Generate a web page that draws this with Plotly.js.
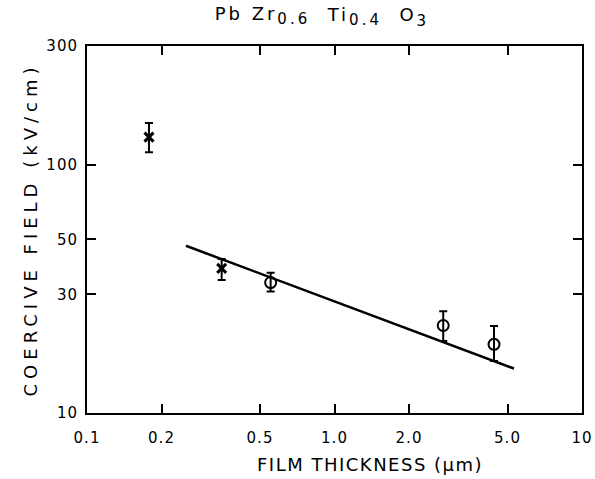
<!DOCTYPE html>
<html>
<head>
<meta charset="utf-8">
<script src="https://cdn.plot.ly/plotly-3.0.1.min.js"></script>
<style>
html,body{margin:0;padding:0;background:#fff;}
#chart{width:595px;height:479px;}
.ytitle{letter-spacing:5px;}
.annotation-text{letter-spacing:1.5px;}
text.gtitle, .gtitle tspan{letter-spacing:3px !important;}
.gtitle tspan[style*="70%"]{font-size:15px !important;}
.xtick text,.ytick text{letter-spacing:1px;}
</style>
</head>
<body>
<div id="chart"></div>
<script>
// Cross-marked points (thinner films)
var crossX = [0.178, 0.35];
var crossY = [129, 38.2];
var crossErrPlus = [18, 3.5];
var crossErrMinus = [17, 3.9];

// Circle-marked points
var circX = [0.552, 2.75, 4.41];
var circY = [33.5, 22.5, 18.9];
var circErrPlus = [3.2, 3.2, 3.5];
var circErrMinus = [2.7, 3.0, 2.7];

// Fitted line end points
var fitX = [0.251, 5.31];
var fitY = [47.1, 15.1];

var xTickVals = [0.1, 0.2, 0.5, 1.0, 2.0, 5.0, 10];
var xTickText = ["0.1", "0.2", "0.5", "1.0", "2.0", "5.0", "10"];
var yTickVals = [10, 30, 50, 100, 300];
var yTickText = ["10", "30", "50", "100", "300"];

var titleText = "Pb Zr<sub>0.6</sub>  Ti<sub>0.4</sub>  O<sub>3</sub>";
var xTitleText = "FILM THICKNESS (μm)";
var yTitleText = "COERCIVE FIELD (kV/cm)";

var fontFam = "DejaVu Sans, sans-serif";

var traces = [
  {
    x: fitX, y: fitY, mode: "lines", type: "scatter",
    line: {color: "#000", width: 2.5}, hoverinfo: "skip"
  },
  {
    x: crossX, y: crossY, mode: "markers", type: "scatter",
    marker: {symbol: "x-thin-open", size: 9, color: "#000", line: {width: 3, color: "#000"}},
    error_y: {type: "data", symmetric: false, array: crossErrPlus, arrayminus: crossErrMinus,
      color: "#000", thickness: 2, width: 4}
  },
  {
    x: circX, y: circY, mode: "markers", type: "scatter",
    marker: {symbol: "circle-open", size: 11, color: "#000", line: {width: 2, color: "#000"}},
    error_y: {type: "data", symmetric: false, array: circErrPlus, arrayminus: circErrMinus,
      color: "#000", thickness: 2, width: 4}
  }
];

var layout = {
  width: 595, height: 479,
  margin: {l: 87, r: 13, t: 46, b: 66},
  paper_bgcolor: "#fff", plot_bgcolor: "#fff",
  showlegend: false,
  font: {family: fontFam, color: "#000", size: 15},
  title: {
    text: titleText,
    font: {family: fontFam, size: 18, color: "#000"},
    x: 0.541, xanchor: "center", y: 0.985, yanchor: "top"
  },
  xaxis: {
    type: "log", range: [-1, 1],
    tickvals: xTickVals, ticktext: xTickText,
    ticks: "inside", ticklen: 9, tickwidth: 2, tickcolor: "#000",
    ticklabelstandoff: 10,
    showline: true, linecolor: "#000", linewidth: 2, mirror: "ticks",
    showgrid: false, zeroline: false,
    tickfont: {family: fontFam, size: 15, color: "#000"}
  },
  yaxis: {
    type: "log", range: [1, Math.log10(300)],
    tickvals: yTickVals, ticktext: yTickText,
    ticks: "inside", ticklen: 9, tickwidth: 2, tickcolor: "#000",
    ticklabelstandoff: 4,
    showline: true, linecolor: "#000", linewidth: 2, mirror: "ticks",
    showgrid: false, zeroline: false,
    tickfont: {family: fontFam, size: 15, color: "#000"},
    title: {text: yTitleText, font: {family: fontFam, size: 18, color: "#000"}, standoff: 4}
  },
  annotations: [
    {
      text: xTitleText, xref: "paper", yref: "paper",
      x: 0.572, xanchor: "center", y: -0.105, yanchor: "top",
      showarrow: false, font: {family: fontFam, size: 18, color: "#000"}
    }
  ]
};

Plotly.newPlot("chart", traces, layout, {displayModeBar: false, staticPlot: true});
</script>
</body>
</html>
